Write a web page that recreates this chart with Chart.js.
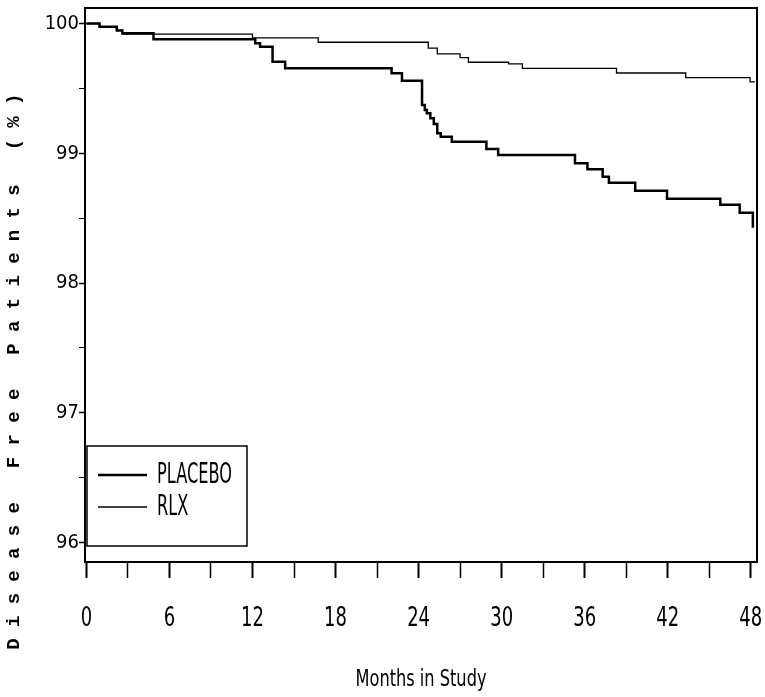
<!DOCTYPE html>
<html><head><meta charset="utf-8">
<script src="https://cdn.jsdelivr.net/npm/chart.js@4"></script>
<style>html,body{margin:0;padding:0;background:#fff}#wrap{width:765px;height:697px;position:relative}</style>
</head><body><div id="wrap"><canvas id="c" width="765" height="697"></canvas></div>
<script>
// ---- data ----
const placeboMonths = [0, 0.95, 2.2, 2.6, 4.85, 12.2, 12.55, 13.45, 14.36, 22.05, 22.8, 24.25, 24.45, 24.6, 24.85, 25.1, 25.35, 25.6, 26.4, 28.9, 29.75, 35.3, 36.2, 37.3, 37.75, 39.65, 41.95, 45.8, 47.2, 48.15];
const placeboValues = [100, 99.976, 99.947, 99.925, 99.879, 99.848, 99.822, 99.706, 99.655, 99.617, 99.560, 99.372, 99.334, 99.308, 99.270, 99.226, 99.154, 99.128, 99.089, 99.033, 98.987, 98.923, 98.877, 98.820, 98.773, 98.712, 98.650, 98.604, 98.542, 98.426];
const rlxMonths = [0, 0.95, 2.2, 2.6, 12.0, 16.75, 24.7, 25.35, 27.0, 27.6, 30.5, 31.5, 38.3, 43.3, 47.95, 48.3];
const rlxValues = [100, 99.976, 99.947, 99.918, 99.89, 99.856, 99.810, 99.766, 99.737, 99.702, 99.689, 99.655, 99.619, 99.583, 99.550, 99.550];
const seriesLabels = ['PLACEBO', 'RLX'];
const xTickValues = [0, 3, 6, 9, 12, 15, 18, 21, 24, 27, 30, 33, 36, 39, 42, 45, 48];
const xLabelStep = 6;
const yTickValues = [96, 96.5, 97, 97.5, 98, 98.5, 99, 99.5, 100];
const xTitle = 'Months in Study';
const yTitle = 'Disease Free Patients (%)';

const toPoints = (xs, ys) => xs.map((x, i) => ({x: x, y: ys[i]}));
const TICK_FONT = {family: '"DejaVu Sans Condensed", "DejaVu Sans", sans-serif', size: 20};

const wrapPlugin = {
  id: 'wrapPlugin',
  beforeDraw(chart) {
    const ys = chart.scales.y, xs = chart.scales.x;
    if (!ys._wrapped) {
      const o = ys.drawTitle.bind(ys);
      ys.drawTitle = function () {
        const ctx = this.ctx; ctx.save();
        ctx.letterSpacing = '11.3px';
        ctx.translate(0, 81);
        o(); ctx.restore();
      };
      ys._wrapped = true;
    }
    if (!xs._wrapped) {
      const o = xs.drawTitle.bind(xs);
      xs.drawTitle = function () {
        const ctx = this.ctx; ctx.save();
        const cy = 679;
        ctx.translate(0, cy + 2); ctx.scale(1, 1.3); ctx.translate(0, -cy);
        o(); ctx.restore();
      };
      const ol = xs.drawLabels.bind(xs);
      xs.drawLabels = function (ca) {
        const ctx = this.ctx; ctx.save();
        const y0 = this.top + this.options.grid.tickLength + this.options.ticks.padding;
        ctx.translate(0, y0); ctx.scale(1, 1.3); ctx.translate(0, -y0);
        ol(ca); ctx.restore();
      };
      xs._wrapped = true;
    }
  },
  afterDraw(chart) {
    const ctx = chart.ctx, ca = chart.chartArea;
    ctx.save();
    ctx.strokeStyle = '#000';
    ctx.lineWidth = 2;
    ctx.strokeRect(ca.left, ca.top, ca.right - ca.left, ca.bottom - ca.top);
    // legend box
    const bx = ca.left + 2, by = ca.bottom - 116, bw = 160, bh = 100;
    ctx.lineWidth = 1.5;
    ctx.strokeRect(bx, by, bw, bh);
    chart.data.datasets.forEach((ds, i) => {
      const ly = by + 29 + i * 32;
      ctx.beginPath();
      ctx.lineWidth = ds.borderWidth;
      ctx.strokeStyle = ds.borderColor;
      ctx.moveTo(bx + 11, ly); ctx.lineTo(bx + 60, ly); ctx.stroke();
      ctx.save();
      ctx.translate(bx + 70, ly + 1);
      ctx.scale(1, 1.55);
      ctx.fillStyle = '#000';
      ctx.font = '18px "DejaVu Sans Condensed", "DejaVu Sans", sans-serif';
      ctx.textBaseline = 'middle';
      ctx.textAlign = 'left';
      ctx.fillText(ds.label, 0, 0);
      ctx.restore();
    });
    ctx.restore();
  }
};

new Chart(document.getElementById('c'), {
  type: 'line',
  data: {
    datasets: [
      {label: seriesLabels[0], data: toPoints(placeboMonths, placeboValues), stepped: true, borderColor: '#000', borderWidth: 2.5, pointRadius: 0, fill: false},
      {label: seriesLabels[1], data: toPoints(rlxMonths, rlxValues), stepped: true, borderColor: '#000', borderWidth: 1.3, pointRadius: 0, fill: false}
    ]
  },
  options: {
    responsive: false,
    animation: false,
    devicePixelRatio: 1,
    layout: {padding: {top: 8, right: 8, left: 0, bottom: 0}},
    plugins: {legend: {display: false}, tooltip: {enabled: false}},
    scales: {
      x: {
        type: 'linear', min: -0.1, max: 48.45,
        afterBuildTicks: s => { s.ticks = xTickValues.map(v => ({value: v})); },
        afterFit: s => { s.height = 135; s.paddingLeft = 0; s.paddingRight = 0; },
        ticks: {
          autoSkip: false, maxRotation: 0, padding: 26, color: '#000', font: TICK_FONT,
          callback: v => (v % xLabelStep === 0 ? String(v) : '')
        },
        grid: {drawOnChartArea: false, drawTicks: true, tickLength: 16, tickColor: '#000',
               tickWidth: c => (c.tick && c.tick.value % xLabelStep === 0 ? 2 : 1.5)},
        border: {display: false},
        title: {display: true, text: xTitle, color: '#000', padding: {top: 0, bottom: 8},
                font: {family: '"DejaVu Sans Condensed", "DejaVu Sans", sans-serif', size: 18}}
      },
      y: {
        type: 'linear', min: 95.85, max: 100.12,
        afterBuildTicks: s => { s.ticks = yTickValues.map(v => ({value: v})); },
        afterFit: s => { s.width = 85; s.paddingTop = 0; s.paddingBottom = 0; },
        ticks: {
          autoSkip: false, padding: 0, color: '#000', font: TICK_FONT,
          callback: v => (Number.isInteger(v) ? String(v) : '')
        },
        grid: {drawOnChartArea: false, drawTicks: true, tickLength: 6, tickColor: '#000',
               tickWidth: c => (c.tick && Number.isInteger(c.tick.value) ? 1.5 : 1)},
        border: {display: false},
        title: {display: true, text: yTitle, color: '#000', padding: {top: 3, bottom: 0},
                font: {family: '"Liberation Mono", "DejaVu Sans Mono", monospace', size: 19, weight: 'bold'}}
      }
    }
  },
  plugins: [wrapPlugin]
});
</script>
</body></html>
